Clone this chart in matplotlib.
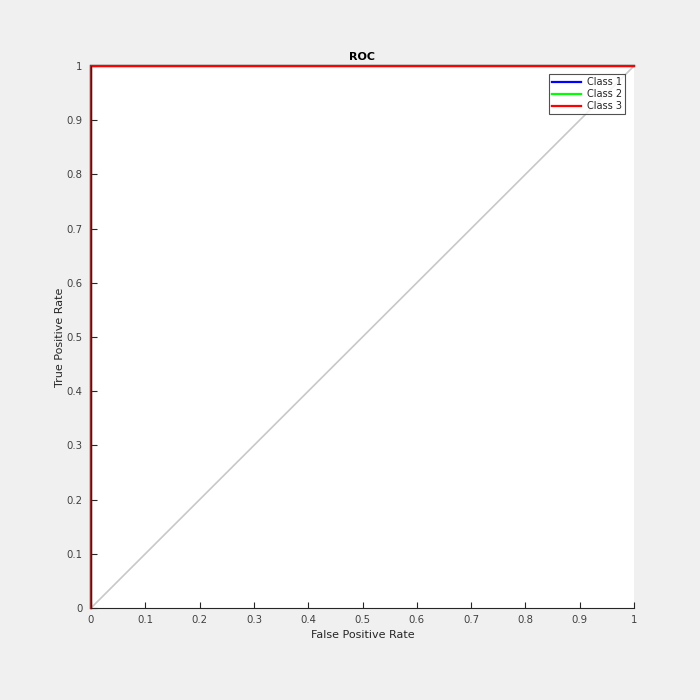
import matplotlib
matplotlib.use("Agg")
import matplotlib.pyplot as plt
import numpy as np

classes = ["Class 1", "Class 2", "Class 3"]
colors = ["#0000ff", "#00ff00", "#ff0000"]
fpr = [[0, 0, 1], [0, 0, 1], [0, 0, 1]]
tpr = [[0, 1, 1], [0, 1, 1], [0, 1, 1]]
diag = [0, 1]
ticks = [0, 0.1, 0.2, 0.3, 0.4, 0.5, 0.6, 0.7, 0.8, 0.9, 1]
tick_labels = ["0", "0.1", "0.2", "0.3", "0.4", "0.5", "0.6", "0.7", "0.8", "0.9", "1"]

fig = plt.figure(figsize=(7, 7), dpi=100, facecolor="#f0f0f0")
ax = fig.add_axes([91/700, 92/700, 543/700, 542/700])
ax.set_facecolor("white")

ax.plot(diag, diag, color="#c8c8c8", lw=1.2, clip_on=False)
for c, col, x, y in zip(classes, colors, fpr, tpr):
    ax.plot(x, y, color=col, lw=1.6, label=c, clip_on=False, solid_joinstyle="miter")

ax.set_xlim(0, 1)
ax.set_ylim(0, 1)
ax.set_xticks(ticks)
ax.set_xticklabels(tick_labels)
ax.set_yticks(ticks)
ax.set_yticklabels(tick_labels)
ax.tick_params(direction="in", length=4, width=0.8, labelsize=7.3, colors="#262626",
               labelcolor="#404040")
ax.tick_params(axis="x", pad=5)
ax.tick_params(axis="y", pad=6)
for s in ["top", "right"]:
    ax.spines[s].set_visible(False)
for s in ["left", "bottom"]:
    ax.spines[s].set_color("#262626")
    ax.spines[s].set_linewidth(0.8)

ax.set_xlabel("False Positive Rate", fontsize=8, color="#262626", labelpad=4)
ax.set_ylabel("True Positive Rate", fontsize=8, color="#262626", labelpad=1)
ax.set_title("ROC", fontsize=8, fontweight="bold", pad=4)

leg = ax.legend(loc="upper right", fontsize=7, frameon=True, fancybox=False,
                edgecolor="#262626", borderaxespad=0.0, bbox_to_anchor=(0.983, 0.985),
                handlelength=3.0, handletextpad=0.6, borderpad=0.3, labelspacing=0.2)
leg.get_frame().set_linewidth(0.8)
for t in leg.get_texts():
    t.set_color("#262626")

fig.savefig("out.png", dpi=100, facecolor=fig.get_facecolor())
